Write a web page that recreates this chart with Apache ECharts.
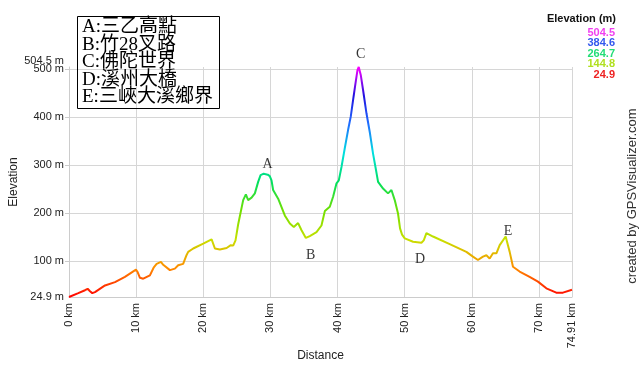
<!DOCTYPE html>
<html><head><meta charset="utf-8">
<script src="https://cdn.jsdelivr.net/npm/echarts@6/dist/echarts.min.js"></script>
<style>html,body{margin:0;padding:0;background:#fff}#c{width:640px;height:366px}</style>
</head><body><div id="c"></div>
<script>
const distanceKm = [0,1.38,2.38,2.78,3.13,3.47,3.87,5.36,6.85,8.33,9.97,10.22,10.57,11.06,12.05,12.6,13.05,13.69,14.03,14.3,15.03,15.77,16.26,17.0,17.5,17.75,18.5,19.99,21.24,21.73,22.47,23.47,24.1,24.45,24.8,25.19,25.94,26.34,26.68,27.19,27.68,28.17,28.53,29.0,29.6,29.9,30.16,30.4,31.15,32.14,32.89,33.48,34.12,34.63,35.27,35.86,36.86,37.6,38.1,38.84,39.33,39.84,40.18,40.58,41.07,41.56,41.96,42.3,42.66,42.96,43.15,43.45,43.8,44.3,44.79,45.28,45.64,46.03,46.77,47.51,48.02,48.51,49.0,49.3,49.6,50.0,51.24,52.49,52.83,53.23,54.21,56.7,59.18,60.16,60.9,61.65,62.16,62.65,63.14,63.65,64.14,65.03,65.63,66.12,67.11,68.6,69.84,71.09,72.57,73.56,74.91];
const elevationM = [24.9,33,39,42,37,33,35,49,56,67,82,77,65,63,70,86,94,98,92,95,81,84,91,94,112,119,126,136,145,126,124,127,133,132,143,176,227,239,227,232,241,265,279,282,280,277,268,248,230,195,178,171,179,164,148,152,160,174,204,213,234,262,268,296,335,373,401,435,470,498,504.5,488,456,408,369,324,296,265,251,241,248,227,199,168,155,147,140,138,143,158,151,135,119,109,102,109,112,105,116,116,133,151,119,88,78,67,57,43,34,34,40];
const xTickKm = [0,10,20,30,40,50,60,70,74.91];
const yLabelM = [24.9,100,200,300,400,500];
const yMaxLabelM = [504.5];
const yGridM = [100,200,300,400,500];
const legendValues = ['504.5','384.6','264.7','144.8','24.9'];
const legendColors = ['#f040f0','#3358ee','#22dd77','#b0e020','#ee2222'];
const placeNames = ['A:三乙高點','B:竹28叉路','C:佛陀世界','D:溪州大橋','E:三峽大溪鄉界'];
const markerLetters = ['A','B','C','D','E'];
const markerKm = [29.57,36.0,43.45,52.3,65.4];
const markerElev = [302,112.5,531,104,162.5];

const chart = echarts.init(document.getElementById('c'), null, {renderer:'canvas', width:640, height:366});
const lineData = distanceKm.map((d,i)=>[d, elevationM[i]]);
const markData = markerKm.map((d,i)=>[d, markerElev[i], markerLetters[i]]);
const sans = 'Liberation Sans, Arial, sans-serif';
const graphics = [
  {type:'rect', shape:{x:77.5,y:16.5,width:142,height:92}, style:{fill:null, stroke:'#000', lineWidth:1}, z:10}
];
placeNames.forEach((t,i)=>{
  graphics.push({type:'text', x:82, y:27+i*17.6, style:{text:t, font:'19px "Liberation Serif", "Noto Sans CJK TC", serif', fill:'#000', textVerticalAlign:'middle'}, z:10});
});
graphics.push({type:'text', x:616, y:18.5, style:{text:'Elevation (m)', font:'bold 11px ' + sans, fill:'#111', textAlign:'right', textVerticalAlign:'middle'}});
legendValues.forEach((t,i)=>{
  graphics.push({type:'text', x:615, y:32.5+i*10.5, style:{text:t, font:'bold 11px ' + sans, fill:legendColors[i], textAlign:'right', textVerticalAlign:'middle'}});
});
graphics.push({type:'text', x:632, y:196, rotation:Math.PI/2, style:{text:'created by GPSVisualizer.com', font:'13px ' + sans, fill:'#333', textAlign:'center', textVerticalAlign:'middle'}});

const yBase = {type:'value', min:24.9, max:504.5, position:'left'};
chart.setOption({
  animation:false,
  backgroundColor:'#fff',
  grid:{left:69, right:68, top:67, height:230, containLabel:false, outerBoundsMode:'none'},
  xAxis:{
    type:'value', min:0, max:74.91,
    name:'Distance', nameLocation:'middle', nameGap:53, nameMoveOverlap:false,
    nameTextStyle:{fontFamily:sans, fontSize:12, color:'#222'},
    axisLine:{show:true, lineStyle:{color:'#cccccc', width:1}},
    axisTick:{show:false, customValues:xTickKm},
    axisLabel:{customValues:xTickKm, rotate:90, margin:6, fontFamily:sans, fontSize:11, color:'#222', formatter:v=>v+' km', hideOverlap:false, showMinLabel:true, showMaxLabel:true},
    splitLine:{show:true, lineStyle:{color:'#d6d6d6', width:1}}
  },
  yAxis:[
    Object.assign({}, yBase, {
      name:'Elevation', nameLocation:'middle', nameGap:49, nameMoveOverlap:false,
      nameTextStyle:{fontFamily:sans, fontSize:12, color:'#222'},
      axisLine:{show:true, lineStyle:{color:'#cccccc', width:1}},
      axisTick:{show:true, length:4, customValues:yGridM, lineStyle:{color:'#cccccc'}},
      axisLabel:{customValues:yLabelM, margin:5, fontFamily:sans, fontSize:11, color:'#222', hideOverlap:false, showMinLabel:true, showMaxLabel:true, formatter:v=>v+' m'},
      splitLine:{show:true, lineStyle:{color:'#d6d6d6', width:1}}
    }),
    Object.assign({}, yBase, {
      axisLine:{show:false}, axisTick:{show:false, customValues:yMaxLabelM}, splitLine:{show:false},
      axisLabel:{customValues:yMaxLabelM, margin:5, fontFamily:sans, fontSize:11, color:'#222', showMaxLabel:true,
        formatter:v=>'{top|'+v+' m}', rich:{top:{fontFamily:sans, fontSize:11, color:'#222', padding:[0,0,12,0]}}}
    })
  ],
  visualMap:{
    type:'continuous', show:false, seriesIndex:0, dimension:1, min:24.9, max:504.5,
    inRange:{color:['#ff0000','#ff8c00','#c8e000','#70e000','#00e060','#00e0e0','#2070ff','#2010e0','#ff00ff']}
  },
  series:[
    {type:'line', data:lineData, showSymbol:false, lineStyle:{width:2}, z:3},
    {type:'scatter', data:markData, symbolSize:0, clip:false, silent:true, z:5,
      label:{show:true, position:'inside', formatter:p=>p.value[2], fontFamily:'Liberation Serif, serif', fontSize:14, color:'#000'}}
  ],
  graphic:graphics
});
</script></body></html>
